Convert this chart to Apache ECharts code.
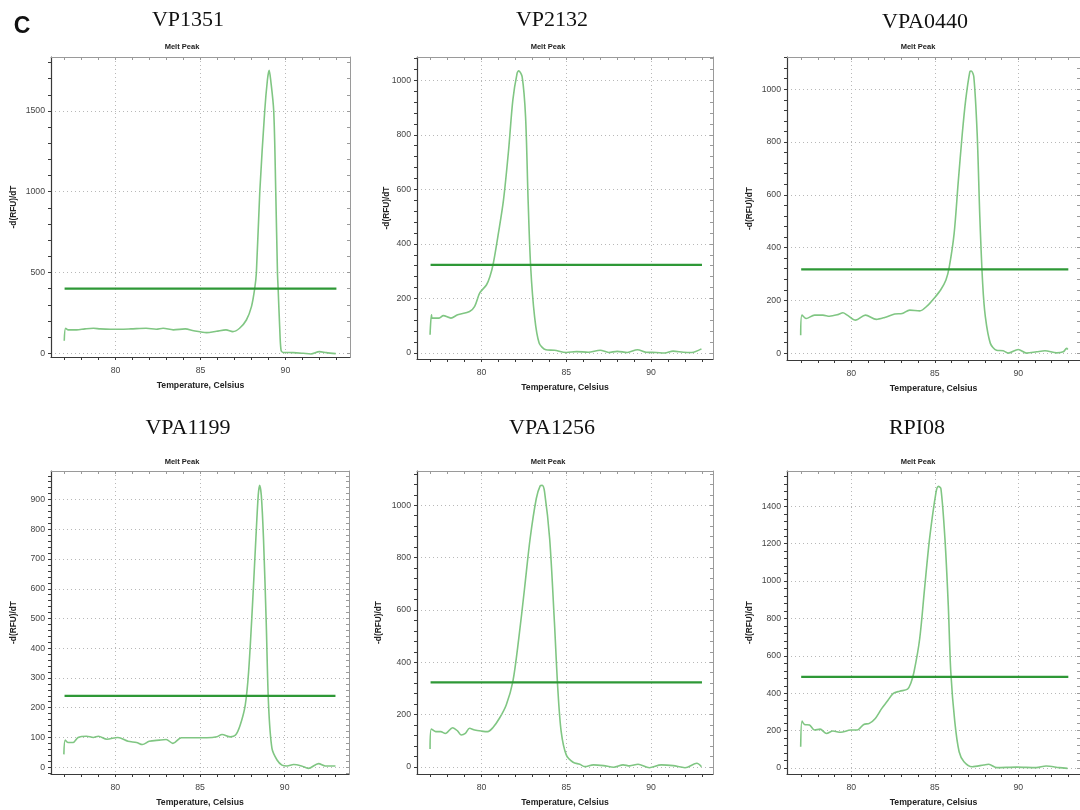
<!DOCTYPE html>
<html>
<head>
<meta charset="utf-8">
<script src="https://cdn.jsdelivr.net/npm/echarts@6/dist/echarts.min.js"></script>
<style>
  html, body { margin: 0; padding: 0; background: #ffffff; }
  #chart { width: 1080px; height: 810px; }
</style>
</head>
<body>
<div id="chart"></div>
<script>
// ---- Melt peak data (temperature in °C, -d(RFU)/dT) ----
const panelTitles = ['VP1351', 'VP2132', 'VPA0440', 'VPA1199', 'VPA1256', 'RPI08'];

const vp1351T = [76.98, 77.06, 77.2, 77.7, 78.2, 78.7, 79.1, 79.7, 80.25, 80.9, 81.8, 82.4, 82.8, 83.4, 84.1, 84.6, 85.35, 85.94, 86.5, 86.9, 87.3, 87.7, 88.0, 88.19, 88.29, 88.49, 88.78, 88.94, 89.04, 89.13, 89.31, 89.43, 89.53, 89.57, 89.66, 89.74, 89.86, 90.45, 91.04, 91.5, 92.0, 92.4, 92.96];
const vp1351V = [78, 155, 145, 145, 151, 155, 151, 149, 149, 151, 155, 149, 155, 145, 151, 140, 128, 136, 145, 134, 155, 206, 289, 400, 500, 1000, 1500, 1693, 1751, 1693, 1500, 1000, 500, 400, 165, 20, 5, 4, 0, -4, 10, 4, -2];

const vp2132T = [76.97, 77.05, 77.1, 77.5, 77.75, 78.2, 78.6, 79.3, 79.6, 79.9, 80.3, 80.5, 80.7, 81.0, 81.3, 81.6, 81.85, 82.1, 82.2, 82.4, 82.6, 82.75, 82.9, 83.13, 83.4, 83.8, 84.3, 85.0, 85.6, 86.3, 87.0, 87.5, 88.0, 88.6, 89.2, 89.7, 90.3, 90.8, 91.3, 91.9, 92.4, 92.97];
const vp2132V = [67, 140, 128, 128, 137, 128, 140, 152, 171, 220, 250, 280, 329, 439, 561, 744, 927, 1025, 1034, 1012, 866, 561, 317, 134, 37, 12, 10, 2, 5, 3, 10, 2, 6, 2, 12, 3, 2, 0, 7, 3, 2, 15];

const vpa0440T = [76.97, 77.05, 77.3, 77.8, 78.3, 78.7, 79.2, 79.5, 79.76, 80.26, 80.85, 81.5, 82.0, 82.6, 83.05, 83.5, 84.1, 84.6, 84.95, 85.35, 85.67, 85.87, 86.16, 86.4, 86.65, 86.85, 87.1, 87.19, 87.34, 87.54, 87.7, 87.87, 88.03, 88.33, 88.7, 89.1, 89.4, 90.0, 90.5, 91.1, 91.6, 92.3, 92.7, 92.9, 92.97];
const vpa0440V = [68, 144, 131, 144, 144, 140, 146, 153, 144, 125, 144, 128, 135, 148, 150, 163, 160, 182, 207, 239, 277, 327, 453, 643, 832, 958, 1066, 1069, 1047, 832, 516, 264, 138, 37, 11, 9, 0, 14, 0, 5, 9, 1, 5, 18, 14];

const vpa1199T = [76.96, 77.04, 77.2, 77.5, 77.8, 78.3, 78.7, 79.0, 79.5, 80.15, 80.75, 81.25, 81.6, 82.0, 82.6, 83.0, 83.4, 83.9, 84.6, 85.4, 86.0, 86.3, 86.8, 87.1, 87.37, 87.67, 87.87, 88.1, 88.3, 88.44, 88.52, 88.62, 88.75, 88.91, 89.05, 89.25, 89.55, 89.84, 90.14, 90.53, 91.0, 91.4, 92.0, 92.4, 93.0];
const vpa1199V = [43, 91, 83, 83, 100, 104, 100, 104, 94, 100, 87, 83, 76, 87, 91, 93, 80, 99, 99, 99, 102, 110, 102, 108, 141, 208, 320, 545, 769, 915, 948, 915, 769, 489, 208, 63, 24, 7, 4, 9, 4, -4, 12, 4, 4];

const vpa1256T = [76.97, 77.05, 77.3, 77.6, 77.87, 78.3, 78.6, 78.8, 79.05, 79.3, 79.6, 80.0, 80.37, 80.67, 81.06, 81.46, 81.85, 82.2, 82.54, 82.87, 83.23, 83.46, 83.58, 83.72, 84.02, 84.3, 84.5, 84.7, 85.0, 85.4, 85.8, 86.1, 86.6, 87.2, 87.8, 88.35, 88.74, 89.23, 89.9, 90.6, 91.3, 92.0, 92.7, 92.97];
const vpa1256V = [69, 145, 135, 135, 128, 150, 137, 122, 128, 148, 141, 137, 135, 150, 186, 237, 326, 491, 682, 873, 1025, 1074, 1076, 1051, 873, 555, 300, 135, 46, 18, 10, 1, 8, 5, -1, 8, 4, 10, -3, 8, 5, -3, 14, 1];

const rpi08T = [76.97, 77.05, 77.2, 77.5, 77.8, 78.13, 78.52, 78.9, 79.37, 79.96, 80.35, 80.75, 81.08, 81.44, 81.83, 82.13, 82.52, 82.9, 83.37, 83.56, 83.76, 84.1, 84.39, 84.69, 85.08, 85.22, 85.37, 85.61, 85.81, 85.96, 86.2, 86.46, 86.75, 87.24, 87.93, 88.23, 88.72, 89.9, 91.08, 91.67, 92.46, 92.95];
const rpi08V = [114, 251, 233, 230, 203, 208, 185, 198, 191, 203, 203, 233, 239, 265, 319, 354, 399, 411, 422, 452, 515, 693, 960, 1227, 1477, 1507, 1494, 1227, 871, 515, 248, 87, 34, 7, 16, 20, 2, 5, 2, 11, 2, -2];

// Threshold lines (horizontal, from 77 to 93 °C)
const thresholdStart = 77;
const thresholdEnd = 93;
const thresholds = [400, 323, 317, 240, 323, 488];

// Tick labels
const xLabels = [80, 85, 90];
const xMinorTicks = [77, 78, 79, 80, 81, 82, 83, 84, 85, 86, 87, 88, 89, 90, 91, 92, 93];
const yLabelsVP1351 = [0, 500, 1000, 1500];
const yLabelsVP2132 = [0, 200, 400, 600, 800, 1000];
const yLabelsVPA0440 = [0, 200, 400, 600, 800, 1000];
const yLabelsVPA1199 = [0, 100, 200, 300, 400, 500, 600, 700, 800, 900];
const yLabelsVPA1256 = [0, 200, 400, 600, 800, 1000];
const yLabelsRPI08 = [0, 200, 400, 600, 800, 1000, 1200, 1400];

const curvesT = [vp1351T, vp2132T, vpa0440T, vpa1199T, vpa1256T, rpi08T];
const curvesV = [vp1351V, vp2132V, vpa0440V, vpa1199V, vpa1256V, rpi08V];
const yLabels = [yLabelsVP1351, yLabelsVP2132, yLabelsVPA0440, yLabelsVPA1199, yLabelsVPA1256, yLabelsRPI08];

// ---- Panel geometry and axis extents ----
const layout = [
  { left: 51,  top: 57,  width: 299, height: 300, xMin: 76.2,  xMax: 93.8,  yMin: -23, yMax: 1834, yMinor: 100, yGap: 33, titleX: 188, titleY: 20,  subX: 182, subY: 47 },
  { left: 417, top: 57,  width: 296, height: 302, xMin: 76.2,  xMax: 93.65, yMin: -22, yMax: 1085, yMinor: 40,  yGap: 26, titleX: 552, titleY: 20,  subX: 548, subY: 47 },
  { left: 787, top: 57,  width: 297, height: 303, xMin: 76.15, xMax: 93.7,  yMin: -26, yMax: 1122, yMinor: 40,  yGap: 33, titleX: 925, titleY: 22,  subX: 918, subY: 47 },
  { left: 51,  top: 471, width: 298, height: 303, xMin: 76.2,  xMax: 93.8,  yMin: -23, yMax: 996,  yMinor: 20,  yGap: 33, titleX: 188, titleY: 428, subX: 182, subY: 462 },
  { left: 417, top: 471, width: 296, height: 303, xMin: 76.2,  xMax: 93.65, yMin: -27, yMax: 1131, yMinor: 40,  yGap: 34, titleX: 552, titleY: 428, subX: 548, subY: 462 },
  { left: 787, top: 471, width: 297, height: 303, xMin: 76.15, xMax: 93.7,  yMin: -32, yMax: 1589, yMinor: 40,  yGap: 33, titleX: 917, titleY: 428, subX: 918, subY: 462 }
];

const SANS = '"Liberation Sans", Arial, sans-serif';
const SERIF = '"Liberation Serif", "Times New Roman", serif';
const CURVE_COLOR = '#80c683';
const THRESHOLD_COLOR = '#2e9836';
const AXIS_DARK = '#3a3a3a';
const FRAME_GRAY = '#9a9a9a';
const GRID_DOT = '#b8b8b8';
const LABEL_SIZE = 8.7;

function minorTicks(min, max, step) {
  const out = [];
  for (let v = Math.ceil(min / step) * step; v <= max + 1e-9; v += step) out.push(Math.round(v * 1000) / 1000);
  return out;
}
const plainNumber = v => String(v);

const grids = [], xAxes = [], yAxes = [], series = [], graphics = [];

layout.forEach((p, i) => {
  grids.push({ left: p.left, top: p.top, width: p.width, height: p.height, show: false });
  const yTicks = minorTicks(p.yMin, p.yMax, p.yMinor);

  // bottom axis: labels + outward ticks
  xAxes.push({
    gridIndex: i, type: 'value', position: 'bottom', min: p.xMin, max: p.xMax,
    axisLine: { show: true, onZero: false, lineStyle: { color: AXIS_DARK, width: 1.2 } },
    axisTick: { show: true, inside: false, length: 3, customValues: xMinorTicks, lineStyle: { color: AXIS_DARK, width: 1 } },
    axisLabel: { show: true, customValues: xLabels, formatter: plainNumber, margin: 9, fontSize: LABEL_SIZE, color: '#444', fontFamily: SANS },
    splitLine: { show: false },
    name: 'Temperature, Celsius', nameLocation: 'middle', nameGap: 24, nameMoveOverlap: false,
    nameTextStyle: { fontSize: LABEL_SIZE, fontWeight: 'bold', color: '#222', fontFamily: SANS }
  });
  // top frame edge with inward ticks
  xAxes.push({
    gridIndex: i, type: 'value', position: 'top', min: p.xMin, max: p.xMax,
    axisLine: { show: true, onZero: false, lineStyle: { color: FRAME_GRAY, width: 1 } },
    axisTick: { show: true, inside: true, length: 3, customValues: xMinorTicks, lineStyle: { color: FRAME_GRAY } },
    axisLabel: { show: false },
    splitLine: { show: false }
  });
  // vertical dotted grid lines
  xAxes.push({
    gridIndex: i, type: 'value', position: 'bottom', min: p.xMin, max: p.xMax, splitNumber: 4,
    axisLine: { show: false }, axisTick: { show: false, customValues: xLabels }, axisLabel: { show: false },
    splitLine: { show: true, lineStyle: { color: GRID_DOT, type: [1, 3], width: 1 } }
  });

  // left axis: labels + outward ticks
  yAxes.push({
    gridIndex: i, type: 'value', position: 'left', min: p.yMin, max: p.yMax,
    axisLine: { show: true, onZero: false, lineStyle: { color: AXIS_DARK, width: 1.2 } },
    axisTick: { show: true, inside: false, length: 3, customValues: yTicks, lineStyle: { color: AXIS_DARK, width: 1 } },
    axisLabel: { show: true, customValues: yLabels[i], formatter: plainNumber, margin: 6, fontSize: LABEL_SIZE, color: '#444', fontFamily: SANS },
    splitLine: { show: false },
    name: '-d(RFU)/dT', nameLocation: 'middle', nameGap: p.yGap, nameMoveOverlap: false,
    nameTextStyle: { fontSize: 8.3, fontWeight: 'bold', color: '#222', fontFamily: SANS }
  });
  // right frame edge with inward ticks
  yAxes.push({
    gridIndex: i, type: 'value', position: 'right', min: p.yMin, max: p.yMax,
    axisLine: { show: true, onZero: false, lineStyle: { color: FRAME_GRAY, width: 1 } },
    axisTick: { show: true, inside: true, length: 3, customValues: yTicks, lineStyle: { color: FRAME_GRAY } },
    axisLabel: { show: false },
    splitLine: { show: false }
  });
  // horizontal dotted grid lines
  yAxes.push({
    gridIndex: i, type: 'value', position: 'left', min: p.yMin, max: p.yMax,
    axisLine: { show: false }, axisTick: { show: false, customValues: yLabels[i] }, axisLabel: { show: false },
    splitLine: { show: true, lineStyle: { color: GRID_DOT, type: [1, 3], width: 1 } }
  });

  const xi = i * 3, yi = i * 3;
  series.push({
    type: 'line', xAxisIndex: xi, yAxisIndex: yi,
    data: curvesT[i].map((t, k) => [t, curvesV[i][k]]),
    showSymbol: false, smooth: 0.3, z: 3,
    lineStyle: { color: CURVE_COLOR, width: 1.6 }
  });
  series.push({
    type: 'line', xAxisIndex: xi, yAxisIndex: yi,
    data: [[thresholdStart, thresholds[i]], [thresholdEnd, thresholds[i]]],
    showSymbol: false, z: 4,
    lineStyle: { color: THRESHOLD_COLOR, width: 2.2 }
  });

  graphics.push({
    type: 'text', x: p.titleX, y: p.titleY,
    style: { text: panelTitles[i], font: '22px ' + SERIF, fill: '#111', align: 'center', verticalAlign: 'middle', textAlign: 'center', textVerticalAlign: 'middle' }
  });
  graphics.push({
    type: 'text', x: p.subX, y: p.subY,
    style: { text: 'Melt Peak', font: 'bold 7.5px ' + SANS, fill: '#222', align: 'center', verticalAlign: 'middle', textAlign: 'center', textVerticalAlign: 'middle' }
  });
});

graphics.push({
  type: 'text', x: 22, y: 27,
  style: { text: 'C', font: 'bold 23px ' + SANS, fill: '#111', align: 'center', verticalAlign: 'middle', textAlign: 'center', textVerticalAlign: 'middle' }
});

const chart = echarts.init(document.getElementById('chart'), null, { renderer: 'canvas' });
chart.setOption({
  backgroundColor: '#ffffff',
  animation: false,
  grid: grids,
  xAxis: xAxes,
  yAxis: yAxes,
  series: series,
  graphic: graphics
});
</script>
</body>
</html>
